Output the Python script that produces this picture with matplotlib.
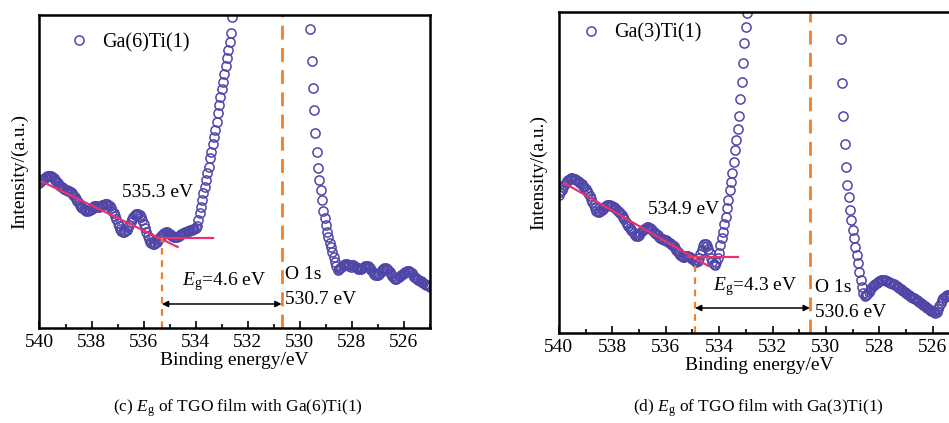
import numpy as np
import matplotlib
matplotlib.use('Agg')
from matplotlib import pyplot as plt
from matplotlib.ticker import MultipleLocator

plt.rcParams['font.family'] = ['Liberation Serif', 'DejaVu Serif']
plt.rcParams['mathtext.fontset'] = 'custom'
plt.rcParams['mathtext.rm'] = 'Liberation Serif'
plt.rcParams['mathtext.it'] = 'Liberation Serif:italic'

# binding energy grid (eV), 0.05 eV steps from 540 down to 525
energy = np.linspace(540, 525, 301)

# Ga(6)Ti(1) O 1s intensity (a.u.), one row per eV
ga6_intensity = [
    145, 147, 148, 149, 150, 151, 152, 152, 152, 152, 151, 150, 148, 147, 145, 143, 142, 141, 140, 139,
    138, 138, 137, 137, 136, 135, 133, 131, 129, 127, 125, 123, 121, 120, 119, 118, 117, 117, 118, 118,
    119, 121, 122, 122, 122, 121, 121, 122, 123, 123, 124, 124, 124, 123, 122, 120, 117, 115, 112, 109,
    105, 102, 99, 97, 96, 96, 97, 98, 101, 103, 106, 109, 111, 113, 114, 114, 114, 113, 111, 108,
    104, 100, 96, 92, 89, 86, 85, 84, 84, 85, 86, 88, 90, 92, 93, 94, 95, 96, 96, 95,
    94, 93, 92, 91, 91, 91, 91, 92, 93, 94, 95, 95, 96, 96, 97, 97, 98, 98, 99, 99,
    100, 102, 108, 115, 121, 128, 135, 141, 148, 155, 161, 170, 176, 184, 191, 198, 206, 215, 223, 231,
    239, 246, 254, 262, 270, 278, 286, 295, 311, 323, 338, 353, 368, 383, 398, 418, 438, 458, 478, 498,
    520, 545, 570, 595, 620, 645, 670, 695, 720, 740, 760, 780, 795, 810, 820, 830, 838, 844, 848, 850,
    850, 848, 844, 838, 830, 820, 808, 795, 780, 764, 746, 726, 705, 683, 660, 636, 612, 588, 563, 538,
    512, 486, 460, 434, 408, 382, 356, 332, 299, 267, 240, 218, 195, 176, 160, 148, 138, 128, 117, 110,
    103, 96, 91, 85, 81, 76, 71, 66, 62, 58, 59, 60, 61, 62, 63, 64, 64, 63, 62, 61,
    63, 63, 62, 61, 60, 59, 59, 59, 60, 61, 62, 62, 62, 61, 60, 58, 56, 54, 53, 53,
    53, 54, 56, 58, 59, 60, 60, 59, 58, 56, 54, 52, 50, 49, 49, 50, 51, 52, 53, 54,
    55, 56, 57, 57, 57, 56, 55, 53, 51, 50, 49, 48, 47, 47, 46, 45, 44, 43, 43, 42,
    41,
]

# Ga(3)Ti(1) O 1s intensity (a.u.)
ga3_intensity = [
    138, 141, 143, 146, 148, 150, 152, 153, 154, 155, 155, 154, 154, 153, 152, 151, 150, 149, 147, 146,
    144, 142, 140, 137, 134, 131, 128, 125, 122, 121, 121, 122, 123, 124, 126, 127, 128, 128, 128, 127,
    127, 126, 125, 124, 122, 121, 120, 118, 116, 114, 111, 109, 107, 105, 103, 102, 100, 98, 97, 97,
    98, 100, 102, 103, 104, 105, 106, 106, 105, 104, 103, 101, 100, 99, 98, 96, 95, 94, 94, 93,
    93, 92, 91, 90, 89, 88, 87, 85, 83, 81, 80, 78, 77, 76, 76, 77, 77, 77, 76, 75,
    74, 73, 72, 71, 72, 75, 79, 83, 87, 89, 89, 87, 84, 80, 75, 71, 69, 68, 71, 75,
    80, 88, 95, 101, 109, 116, 125, 133, 143, 151, 160, 171, 183, 193, 204, 217, 234, 251, 270, 290,
    306, 320, 340, 362, 386, 412, 440, 470, 500, 532, 565, 598, 632, 666, 700, 734, 768, 800, 830, 858,
    884, 908, 930, 950, 968, 983, 996, 1007, 1016, 1023, 1028, 1031, 1032, 1031, 1028, 1023, 1016, 1007, 996, 983,
    968, 955, 940, 925, 910, 895, 880, 865, 850, 835, 820, 805, 790, 775, 760, 745, 730, 715, 700, 685,
    670, 655, 640, 620, 600, 578, 550, 515, 470, 415, 349, 294, 250, 217, 189, 166, 148, 136, 123, 113,
    103, 95, 86, 78, 70, 61, 53, 46, 40, 37, 38, 39, 41, 43, 45, 47, 48, 49, 50, 51,
    52, 53, 53, 53, 53, 52, 52, 51, 50, 50, 49, 49, 48, 47, 46, 45, 44, 43, 42, 41,
    40, 39, 38, 37, 36, 35, 35, 34, 33, 32, 31, 30, 29, 28, 27, 26, 25, 24, 23, 22,
    22, 21, 20, 21, 24, 27, 30, 33, 35, 36, 37, 38, 38, 38, 37, 36, 35, 34, 33, 32,
    31,
]

# linear fits: (x0, x1), (y0, y1)
ga6_slope_fit = ([539.87, 534.69], [146, 81])
ga6_base_fit = ([535.46, 533.35], [90, 90])
ga3_slope_fit = ([539.80, 534.40], [150, 67])
ga3_base_fit = ([535.17, 533.30], [76, 76])

ga6_onset, ga6_o1s, ga6_cross = 535.3, 530.7, 90
ga3_onset, ga3_o1s, ga3_cross = 534.9, 530.6, 76

marker_color = '#4f46a8'
fit_color = '#e8336d'
dash_color = '#f07f2c'

fig = plt.figure(figsize=(9.49, 4.23), dpi=100)
ax1 = fig.add_axes([0.0416, 0.2246, 0.4115, 0.7400])
ax2 = fig.add_axes([0.5889, 0.2128, 0.4221, 0.7589])


def draw_panel(ax, intensity, label, ylim, slope_fit, base_fit, onset, o1s, cross,
               arrow_y, onset_xy, eg_xy, eg_text, o1s_xy, o1s_text, leg_anchor):
    ax.plot(energy, intensity, 'o', mfc='none', mec=marker_color, ms=6.6, mew=1.1, label=label)
    ax.plot(slope_fit[0], slope_fit[1], color=fit_color, lw=1.6)
    ax.plot(base_fit[0], base_fit[1], color=fit_color, lw=1.6)

    # onset marker and O 1s position
    ax.plot([onset, onset], [0, cross], color=dash_color, lw=1.6, dashes=(3, 2.5))
    ax.axvline(o1s, color=dash_color, lw=2, dashes=(5, 3))

    ax.annotate('', xy=(o1s, arrow_y), xytext=(onset, arrow_y),
                arrowprops=dict(arrowstyle='<|-|>', color='black', lw=1.1,
                                shrinkA=0, shrinkB=0, mutation_scale=9))

    ax.text(onset_xy[0], onset_xy[1], f'{onset} eV', fontsize=14, va='center')
    ax.text(eg_xy[0], eg_xy[1], eg_text, fontsize=14, va='center')
    ax.text(o1s_xy[0], o1s_xy[1], 'O 1s', fontsize=14, va='center')
    ax.text(o1s_xy[0], o1s_xy[1] - 25, o1s_text, fontsize=14, va='center')

    ax.set_xlim(540, 525)
    ax.set_ylim(*ylim)
    ax.xaxis.set_major_locator(MultipleLocator(2))
    ax.xaxis.set_minor_locator(MultipleLocator(1))
    ax.tick_params(axis='x', which='both', direction='in', top=False, labelsize=14, pad=4)
    ax.tick_params(axis='x', which='major', length=5, width=1.2)
    ax.tick_params(axis='x', which='minor', length=3, width=1.2)
    ax.set_yticks([])
    for s in ax.spines.values():
        s.set_linewidth(1.8)
    ax.set_xlabel('Binding energy/eV', fontsize=14, labelpad=1)
    ax.set_ylabel('Intensity/(a.u.)', fontsize=14, labelpad=8)
    ax.legend(loc='upper left', bbox_to_anchor=leg_anchor, frameon=False, numpoints=1,
              handlelength=1.0, handletextpad=0.65, fontsize=14.5)


draw_panel(ax1, ga6_intensity, 'Ga(6)Ti(1)', (0, 313), ga6_slope_fit, ga6_base_fit,
           ga6_onset, ga6_o1s, ga6_cross, 24, (536.84, 135), (534.54, 46),
           r'$E_{\rm g}$=4.6 eV', (530.56, 53), '530.7 eV', (0.03, 1.0))
draw_panel(ax2, ga3_intensity, 'Ga(3)Ti(1)', (0, 321), ga3_slope_fit, ga3_base_fit,
           ga3_onset, ga3_o1s, ga3_cross, 25, (536.66, 123), (534.23, 46),
           r'$E_{\rm g}$=4.3 eV', (530.41, 45), '530.6 eV', (0.01, 1.02))

fig.text(0.251, 0.035, r'(c) $E_{\rm g}$ of TGO film with Ga(6)Ti(1)', fontsize=12.5, ha='center', va='center')
fig.text(0.799, 0.035, r'(d) $E_{\rm g}$ of TGO film with Ga(3)Ti(1)', fontsize=12.5, ha='center', va='center')

fig.savefig('out.png', dpi=100)
